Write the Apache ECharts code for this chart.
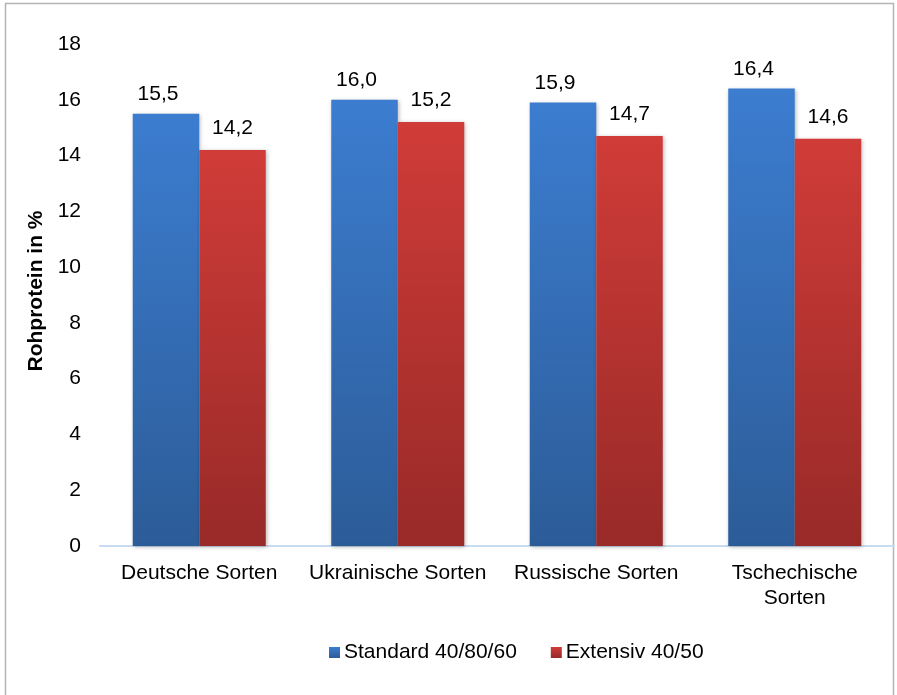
<!DOCTYPE html>
<html>
<head>
<meta charset="utf-8">
<script src="https://cdn.jsdelivr.net/npm/echarts@6/dist/echarts.min.js"></script>
<style>
  html, body { margin: 0; padding: 0; background: #ffffff; }
  #chart { width: 897px; height: 695px; }
</style>
</head>
<body>
<div id="chart"></div>
<script>
// Rohproteingehalt nach Sortenherkunft und Düngungsvariante
const categories = ['Deutsche Sorten', 'Ukrainische Sorten', 'Russische Sorten', 'Tschechische\nSorten'];
const seriesNames = ['Standard 40/80/60', 'Extensiv 40/50'];
const standardValues = [15.5, 16.0, 15.9, 16.4];
const extensivValues = [14.2, 15.2, 14.7, 14.6];
const yAxisTitle = 'Rohprotein in %';

const FONT = "'Liberation Sans', Arial, sans-serif";

function vGradient(top, bottom) {
  return new echarts.graphic.LinearGradient(0, 0, 0, 1, [
    { offset: 0, color: top },
    { offset: 1, color: bottom }
  ]);
}

function fmt(v) {
  return v.toFixed(1).replace('.', ',');
}

const chart = echarts.init(document.getElementById('chart'), null, { renderer: 'canvas' });

const barShadow = {
  shadowBlur: 4,
  shadowColor: 'rgba(0,0,0,0.28)',
  shadowOffsetX: 1,
  shadowOffsetY: 1
};

chart.setOption({
  animation: false,
  backgroundColor: '#ffffff',
  textStyle: { fontFamily: FONT },
  graphic: [{
    type: 'rect',
    silent: true,
    z: -1,
    shape: { x: 5.5, y: 3.5, width: 888, height: 730 },
    style: { fill: 'none', stroke: '#b5b5b5', lineWidth: 1.5 }
  }],
  grid: { left: 100, right: 3, top: 44, bottom: 149 },
  legend: {
    left: 324,
    top: 637,
    itemWidth: 11,
    itemHeight: 11,
    itemGap: 34,
    icon: 'rect',
    textStyle: { fontFamily: FONT, fontSize: 21, color: '#000000', padding: [0, 0, 0, -1] },
    data: seriesNames
  },
  xAxis: {
    type: 'category',
    data: categories,
    axisLine: { show: true, lineStyle: { color: '#c9dbf0', width: 2 } },
    axisTick: { show: false },
    axisLabel: {
      color: '#000000',
      fontFamily: FONT,
      fontSize: 21,
      lineHeight: 25,
      margin: 15,
      interval: 0
    }
  },
  yAxis: {
    type: 'value',
    min: 0,
    max: 18,
    interval: 2,
    name: yAxisTitle,
    nameLocation: 'middle',
    nameGap: 45,
    nameRotate: 90,
    nameTextStyle: { color: '#000000', fontFamily: FONT, fontSize: 21, fontWeight: 'bold', padding: [0, 0, 0, 8] },
    axisLine: { show: false },
    axisTick: { show: false },
    splitLine: { show: false },
    axisLabel: { color: '#000000', fontFamily: FONT, fontSize: 21, margin: 19 }
  },
  series: [
    {
      name: seriesNames[0],
      type: 'bar',
      data: standardValues,
      barGap: '0%',
      barCategoryGap: '33%',
      itemStyle: Object.assign({ color: vGradient('#3c7dd0', '#2c5c98') }, barShadow),
      label: {
        show: true,
        position: 'top',
        distance: 9,
        offset: [-8, 0],
        color: '#000000',
        fontFamily: FONT,
        fontSize: 21,
        formatter: p => fmt(p.value)
      }
    },
    {
      name: seriesNames[1],
      type: 'bar',
      data: extensivValues,
      barGap: '0%',
      barCategoryGap: '33%',
      itemStyle: Object.assign({ color: vGradient('#d03c38', '#982a28') }, barShadow),
      label: {
        show: true,
        position: 'top',
        distance: 11,
        color: '#000000',
        fontFamily: FONT,
        fontSize: 21,
        formatter: p => fmt(p.value)
      }
    }
  ]
});
</script>
</body>
</html>
